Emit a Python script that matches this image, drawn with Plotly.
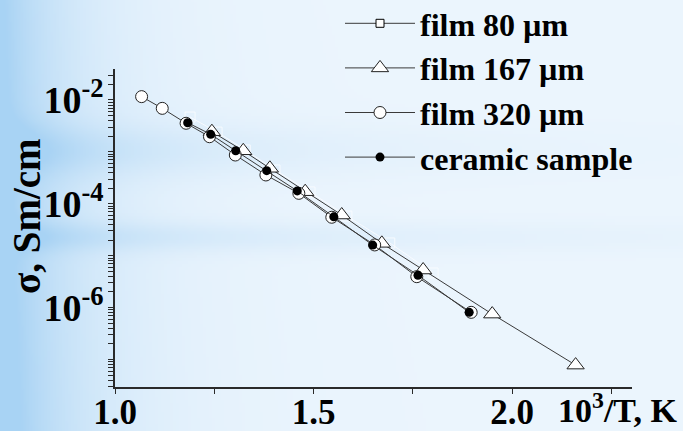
import base64
import struct
import zlib

import numpy as np
import plotly.graph_objects as go

# ---- measured conductivity data (x = 1000/T, y = sigma in S/cm) ----
film80_x = [1.189, 1.257, 1.328, 1.403, 1.491, 1.584, 1.692, 1.801]
film80_y = [4.7e-3, 2.41e-3, 1.09e-3, 4.48e-4, 1.69e-4, 5.8e-5, 1.76e-5, 4.65e-6]

film167_x = [1.244, 1.323, 1.390, 1.479, 1.571, 1.672, 1.776, 1.950, 2.160]
film167_y = [2.45e-3, 1.05e-3, 4.83e-4, 1.71e-4, 6.08e-5, 1.73e-5, 5.3e-6, 7.5e-7, 7.8e-8]

film320_x = [1.067, 1.119, 1.179, 1.238, 1.303, 1.380, 1.463, 1.546, 1.654, 1.760, 1.897]
film320_y = [1.16e-2, 6.9e-3, 3.56e-3, 1.96e-3, 8.7e-4, 3.59e-4, 1.59e-4, 5.5e-5, 1.61e-5, 3.94e-6, 8.1e-7]

ceramic_x = [1.183, 1.241, 1.304, 1.382, 1.459, 1.551, 1.649, 1.763, 1.892]
ceramic_y = [3.65e-3, 2.18e-3, 1.05e-3, 4.35e-4, 1.77e-4, 5.6e-5, 1.6e-5, 4.2e-6, 8.1e-7]

series_names = ["film 80 \u00b5m", "film 167 \u00b5m", "film 320 \u00b5m", "ceramic sample"]

# ---- axis ticks ----
x_tick_vals = [1.0, 1.25, 1.5, 1.75, 2.0, 2.25]
x_tick_text = ["1.0", "", "1.5", "", "2.0", ""]
y_label_decades = [-2, -4, -6]
y_label_text = ["10<sup>-2</sup>", "10<sup>-4</sup>", "10<sup>-6</sup>"]

W, H = 683, 431
ML, MR, MT, MB = 115, 51, 69, 44
PW, PH = W - ML - MR, H - MT - MB

FONT = "Liberation Serif, Times New Roman, serif"


def png_data_uri(rgb):
    """Encode an RGB uint8 array as a PNG data URI."""
    h, w, _ = rgb.shape
    raw = b"".join(b"\x00" + rgb[r].tobytes() for r in range(h))

    def chunk(tag, data):
        c = struct.pack(">I", len(data)) + tag + data
        return c + struct.pack(">I", zlib.crc32(tag + data) & 0xFFFFFFFF)

    png = b"\x89PNG\r\n\x1a\n"
    png += chunk(b"IHDR", struct.pack(">IIBBBBB", w, h, 8, 2, 0, 0, 0))
    png += chunk(b"IDAT", zlib.compress(raw, 9))
    png += chunk(b"IEND", b"")
    return "data:image/png;base64," + base64.b64encode(png).decode()


# soft blue backdrop: strong on the left, fading to white with two horizontal bands
gw, gh = W // 3, H // 3
gx = np.linspace(0, W, gw)[None, :]
gy = np.linspace(0, H, gh)[:, None]
w = (0.14
     + 0.88 * np.exp(-gx / 72.0)
     + 0.42 * np.exp(-((gy - 150) / 26.0) ** 2) * np.exp(-gx / 240.0)
     + 0.34 * np.exp(-((gy - 237) / 15.0) ** 2) * np.exp(-gx / 380.0)
     + 0.20 * np.exp(-gx / 130.0) * (gy / H))
w = np.clip(w, 0, 1)[..., None]
blue = np.array([168, 211, 244], dtype=float)
white = np.array([247, 251, 255], dtype=float)
bg = (white * (1 - w) + blue * w).astype(np.uint8)
bg_uri = png_data_uri(np.ascontiguousarray(bg))

line_style = dict(color="#3a3a3a", width=1)

fig = go.Figure()

# film 80 µm: faint white squares behind the others
fig.add_trace(go.Scatter(
    x=film80_x, y=film80_y, mode="lines+markers", showlegend=False,
    line=dict(color="rgba(250,252,255,0.85)", width=1),
    marker=dict(symbol="square-open", size=10, color="rgba(250,252,255,0.9)",
                line=dict(width=1)),
))
# legend entry for film 80 µm
fig.add_trace(go.Scatter(
    x=[None], y=[None], mode="lines+markers", name=series_names[0],
    line=line_style,
    marker=dict(symbol="square", size=8, color="white", line=dict(color="black", width=1)),
))
fig.add_trace(go.Scatter(
    x=film167_x, y=film167_y, mode="lines+markers", name=series_names[1],
    line=line_style,
    marker=dict(symbol="triangle-up", size=15, color="white", line=dict(color="#222", width=1)),
))
fig.add_trace(go.Scatter(
    x=film320_x, y=film320_y, mode="lines+markers", name=series_names[2],
    line=line_style,
    marker=dict(symbol="circle", size=12, color="white", line=dict(color="#222", width=1)),
))
fig.add_trace(go.Scatter(
    x=ceramic_x, y=ceramic_y, mode="lines+markers", name=series_names[3],
    line=line_style,
    marker=dict(symbol="circle", size=9, color="black", line=dict(color="black", width=0)),
))

# log ticks: every 1..9 x 10^n, labels only on selected decades
y_tick_vals, y_tick_text = [], []
for n in range(-8, -1):
    for k in range(1, 10):
        v = k * 10.0 ** n
        if 10 ** -7.53 <= v <= 10 ** -1.403:
            y_tick_vals.append(v)
            lab = ""
            if k == 1 and n in y_label_decades:
                lab = y_label_text[y_label_decades.index(n)]
            y_tick_text.append(lab)

fig.update_layout(
    width=W, height=H,
    margin=dict(l=ML, r=MR, t=MT, b=MB, pad=0, autoexpand=False),
    paper_bgcolor="white",
    plot_bgcolor="rgba(0,0,0,0)",
    font=dict(family=FONT, color="black"),
    showlegend=True,
    legend=dict(
        x=(340 - ML) / PW, y=(H - MB + 4) / PH, xanchor="left", yanchor="top",
        bgcolor="rgba(0,0,0,0)", borderwidth=0,
        font=dict(family=FONT, size=32, color="black", weight="bold"),
        itemwidth=70, tracegroupgap=0,
    ),
    xaxis=dict(
        range=[1.0, 2.302], showgrid=False, zeroline=False, automargin=False,
        showline=True, linecolor="#2a2a2a", linewidth=1.5,
        ticks="outside", ticklen=5, tickwidth=1, tickcolor="#2a2a2a",
        tickvals=x_tick_vals, ticktext=x_tick_text, ticklabelstandoff=-12,
        tickfont=dict(family=FONT, size=35, color="black", weight="bold"),
    ),
    yaxis=dict(
        type="log", range=[-7.53, -1.403], showgrid=False, zeroline=False, automargin=False,
        showline=True, linecolor="#2a2a2a", linewidth=1.5,
        ticks="outside", ticklen=5, tickwidth=1, tickcolor="#2a2a2a",
        tickvals=y_tick_vals, ticktext=y_tick_text, ticklabelstandoff=-3,
        tickfont=dict(family=FONT, size=38, color="black", weight="bold"),
    ),
    images=[dict(
        source=bg_uri, xref="paper", yref="paper",
        x=-ML / PW, y=1 + MT / PH, sizex=W / PW, sizey=H / PH,
        xanchor="left", yanchor="top", sizing="stretch", layer="below",
    )],
    annotations=[
        dict(text="<b>10<sup>3</sup>/T, K</b>", xref="paper", yref="paper",
             x=(W - 3 - ML) / PW, y=2 / PH, xanchor="right", yanchor="top",
             showarrow=False, font=dict(family=FONT, size=34, color="black")),
        dict(text="<b>\u03c3, Sm/cm</b>", xref="paper", yref="paper",
             x=(26 - ML) / PW, y=(H - MB - 216) / PH, xanchor="center", yanchor="middle",
             textangle=-90, showarrow=False,
             font=dict(family=FONT, size=39, color="black")),
    ],
)

fig.write_html("out.html")
